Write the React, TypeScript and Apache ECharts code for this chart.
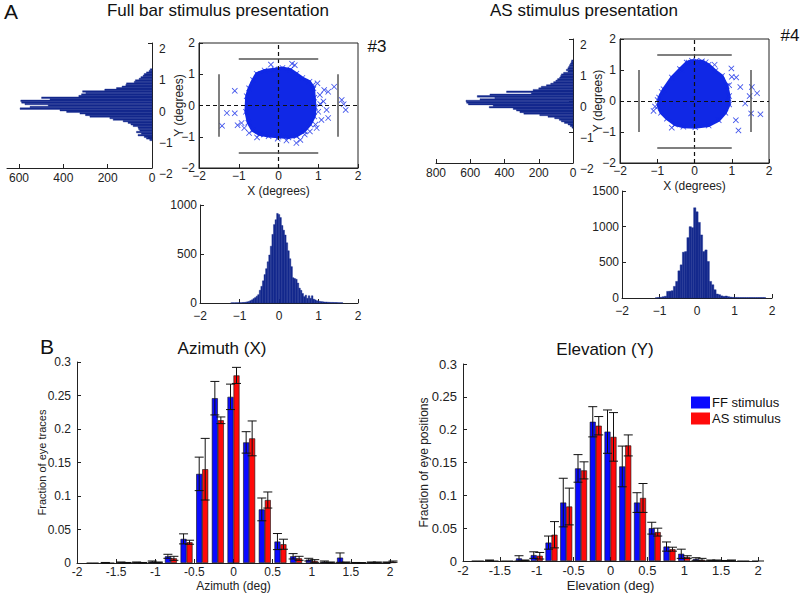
import React, { useEffect, useRef } from 'react';
import * as echarts from 'echarts';

const FONT = '"Liberation Sans", Arial, Helvetica, sans-serif';
const HIST_COLOR = '#14298d';
const DOT_COLOR = '#1028e6';
const AXIS_COLOR = '#222';

// ---------- Panel A, #3 (full bar stimulus) ----------
const yHist3Centers = [1.15, 1.1, 1.05, 1.0, 0.95, 0.9, 0.85, 0.8, 0.75, 0.7, 0.65, 0.6, 0.55, 0.5, 0.45, 0.4, 0.35, 0.3, 0.25, 0.2, 0.15, 0.1, 0.05, 0.0, -0.05, -0.1, -0.15, -0.2, -0.25, -0.3, -0.35, -0.4, -0.45, -0.5, -0.55, -0.6, -0.65, -0.7, -0.75, -0.8, -0.85, -0.9, -0.95, -1.0, -1.05, -1.1];
const yHist3Counts = [8, 13, 25, 35, 40, 50, 58, 75, 80, 115, 118, 135, 160, 213, 313, 298, 318, 330, 498, 460, 592, 588, 573, 468, 550, 595, 415, 385, 325, 300, 280, 190, 175, 130, 108, 95, 85, 63, 60, 55, 70, 48, 63, 35, 25, 10];

const xHist3Centers = [-1.2, -1.16, -1.12, -1.08, -1.04, -1.0, -0.96, -0.92, -0.88, -0.84, -0.8, -0.76, -0.72, -0.68, -0.64, -0.6, -0.56, -0.52, -0.48, -0.44, -0.4, -0.36, -0.32, -0.28, -0.24, -0.2, -0.16, -0.12, -0.08, -0.04, 0.0, 0.04, 0.08, 0.12, 0.16, 0.2, 0.24, 0.28, 0.32, 0.36, 0.4, 0.44, 0.48, 0.52, 0.56, 0.6, 0.64, 0.68, 0.72, 0.76, 0.8, 0.84, 0.88, 0.92, 0.96, 1.0, 1.04, 1.08, 1.12, 1.16, 1.2, 1.24, 1.28, 1.32, 1.36, 1.4, 1.44, 1.48, 1.52, 1.56, 1.6];
const xHist3Counts = [2, 2, 2, 3, 3, 4, 3, 5, 6, 8, 12, 16, 24, 32, 45, 55, 70, 85, 130, 170, 226, 290, 350, 420, 490, 580, 700, 800, 850, 914, 904, 872, 791, 743, 694, 614, 533, 452, 371, 258, 249, 242, 203, 152, 129, 97, 65, 80, 48, 74, 48, 74, 39, 32, 23, 20, 16, 14, 12, 10, 10, 8, 7, 6, 6, 5, 5, 4, 3, 3, 2];

const blob3 = [[-0.8, 0.3], [-0.74, 0.55], [-0.64, 0.82], [-0.55, 1.02], [-0.35, 1.12], [-0.1, 1.16], [0.1, 1.2], [0.3, 1.15], [0.45, 1.02], [0.6, 0.88], [0.78, 0.76], [0.88, 0.55], [0.9, 0.25], [0.92, -0.05], [0.9, -0.35], [0.8, -0.6], [0.65, -0.82], [0.45, -0.98], [0.25, -1.02], [0.0, -1.0], [-0.25, -0.98], [-0.48, -0.92], [-0.65, -0.8], [-0.76, -0.55], [-0.82, -0.2]];
const outliers3 = [[-0.19, 1.31], [0.34, 1.34], [0.41, 1.29], [-1.1, 0.47], [-1.3, -0.24], [-1.1, -0.25], [-1.42, -0.65], [-1.03, -0.63], [-0.93, -0.56], [-0.86, -0.72], [-0.54, -1.02], [-0.36, -0.93], [-0.02, -1.06], [0.45, -1.2], [0.66, -0.93], [0.96, -0.72], [1.08, -0.46], [1.25, -0.4], [1.21, -0.14], [1.13, 0.13], [1.15, 0.5], [1.25, 0.44], [1.4, 0.6], [1.59, 0.18], [1.64, 0.04], [1.69, -0.14], [0.98, 0.71], [0.87, 0.66], [1.04, 0.34], [0.93, -0.61], [0.79, -0.83], [-0.74, -0.88], [0.55, -1.1], [0.2, -1.12], [1.0, -0.2], [1.05, 0.05]];

// ---------- Panel A, #4 (AS stimulus) ----------
const yHist4Centers = [1.3, 1.25, 1.2, 1.15, 1.1, 1.05, 1.0, 0.95, 0.9, 0.85, 0.8, 0.75, 0.7, 0.65, 0.6, 0.55, 0.5, 0.45, 0.4, 0.35, 0.3, 0.25, 0.2, 0.15, 0.1, 0.05, 0.0, -0.05, -0.1, -0.15, -0.2, -0.25, -0.3, -0.35, -0.4, -0.45, -0.5, -0.55, -0.6, -0.65, -0.7, -0.75, -0.8, -0.85];
const yHist4Counts = [8, 10, 15, 20, 25, 30, 39, 29, 55, 68, 72, 78, 90, 100, 113, 130, 155, 185, 200, 233, 388, 243, 485, 559, 456, 543, 625, 621, 611, 466, 489, 349, 330, 310, 287, 194, 146, 107, 80, 68, 50, 29, 16, 6];

const xHist4Centers = [-1.08, -1.02, -0.96, -0.9, -0.84, -0.78, -0.72, -0.66, -0.6, -0.54, -0.48, -0.42, -0.36, -0.3, -0.24, -0.18, -0.12, -0.06, 0.0, 0.06, 0.12, 0.18, 0.24, 0.3, 0.36, 0.42, 0.48, 0.54, 0.6, 0.66, 0.72, 0.78, 0.84, 0.9, 0.96, 1.02, 1.08, 1.14, 1.2, 1.26, 1.32, 1.38, 1.44, 1.5, 1.56, 1.62, 1.68, 1.74, 1.8];
const xHist4Counts = [5, 8, 10, 18, 25, 93, 95, 102, 163, 233, 381, 465, 642, 651, 846, 1000, 986, 1265, 1209, 1060, 884, 651, 674, 512, 233, 186, 116, 56, 47, 30, 23, 28, 19, 12, 9, 8, 8, 7, 7, 7, 7, 7, 7, 7, 7, 7, 7, 7, 7];

const blob4 = [[-0.95, 0.11], [-0.83, 0.38], [-0.61, 0.76], [-0.39, 1.03], [-0.21, 1.24], [-0.07, 1.3], [0.2, 1.28], [0.38, 1.17], [0.56, 0.97], [0.74, 0.81], [0.87, 0.49], [0.93, 0.16], [0.93, -0.11], [0.83, -0.38], [0.65, -0.62], [0.38, -0.79], [0.02, -0.85], [-0.3, -0.83], [-0.52, -0.76], [-0.74, -0.57], [-0.9, -0.38], [-0.97, -0.16]];
const outliers4 = [[0.54, 1.17], [0.99, 1.05], [1.0, 0.78], [1.12, 0.76], [1.23, 0.45], [1.54, 0.45], [1.68, 0.25], [1.48, 0.16], [1.36, -0.08], [1.52, -0.4], [1.77, -0.43], [1.11, -0.62], [1.18, -0.95], [0.93, 0.51], [0.91, -0.05], [-0.61, -0.86], [-1.1, -0.32], [-1.06, -0.18], [-0.99, 0.03], [-0.88, 0.29], [-0.34, 1.0], [-0.16, 1.24], [0.05, 1.3], [0.3, 1.25]];

// ---------- Panel B ----------
const binCenters = [-1.8, -1.6, -1.4, -1.2, -1.0, -0.8, -0.6, -0.4, -0.2, 0.0, 0.2, 0.4, 0.6, 0.8, 1.0, 1.2, 1.4, 1.6, 1.8, 2.0];
const azFF = [0, 0.0005, 0.001, 0.001, 0.002, 0.01, 0.036, 0.133, 0.246, 0.248, 0.18, 0.08, 0.032, 0.01, 0.005, 0.002, 0.008, 0.0005, 0.001, 0.001];
const azFFErr = [0, 0.0003, 0.0005, 0.0005, 0.001, 0.003, 0.0075, 0.025, 0.025, 0.019, 0.016, 0.017, 0.012, 0.004, 0.002, 0.001, 0.007, 0.0003, 0.0005, 0.0005];
const azAS = [0, 0, 0.0005, 0.0005, 0.001, 0.007, 0.031, 0.14, 0.213, 0.28, 0.186, 0.094, 0.028, 0.007, 0.003, 0.001, 0.001, 0.0003, 0.001, 0.002];
const azASErr = [0, 0, 0.0003, 0.0003, 0.0005, 0.003, 0.003, 0.046, 0.005, 0.012, 0.026, 0.012, 0.0075, 0.003, 0.002, 0.0005, 0.0005, 0.0002, 0.0005, 0.001];

const elFF = [0, 0.001, 0, 0.004, 0.009, 0.028, 0.089, 0.141, 0.212, 0.197, 0.144, 0.089, 0.05, 0.022, 0.011, 0.003, 0.001, 0.0005, 0, 0];
const elFFErr = [0, 0.0005, 0, 0.004, 0.005, 0.01, 0.037, 0.021, 0.023, 0.033, 0.031, 0.015, 0.009, 0.007, 0.007, 0.002, 0.0005, 0.0003, 0, 0];
const elAS = [0, 0, 0, 0.001, 0.008, 0.04, 0.083, 0.138, 0.206, 0.189, 0.176, 0.096, 0.044, 0.018, 0.006, 0.002, 0.001, 0.001, 0, 0];
const elASErr = [0, 0, 0, 0.0005, 0.005, 0.02, 0.028, 0.013, 0.014, 0.037, 0.016, 0.022, 0.006, 0.003, 0.002, 0.002, 0.0005, 0.0005, 0, 0];

const FF_COLOR = '#0a0aff';
const AS_COLOR = '#ff0a0a';

const minus = (v: number) => String(v).replace('-', '\u2212');
const plain = (v: number) => String(v);

const xMarker = 'path://M1 0L5 4L9 0L10 1L6 5L10 9L9 10L5 6L1 10L0 9L4 5L0 1Z';

function vHist(binWidth: number) {
  return (params: any, api: any) => {
    const c = api.value(0);
    const v = api.value(1);
    const p0 = api.coord([c - binWidth / 2, v]);
    const p1 = api.coord([c + binWidth / 2, 0]);
    return {
      type: 'rect',
      shape: { x: p0[0], y: p0[1], width: p1[0] - p0[0], height: p1[1] - p0[1] },
      style: { fill: HIST_COLOR, stroke: HIST_COLOR, lineWidth: 0.4 },
    };
  };
}

function hHist(binWidth: number) {
  return (params: any, api: any) => {
    const v = api.value(0);
    const c = api.value(1);
    const p0 = api.coord([v, c + binWidth / 2]);
    const p1 = api.coord([0, c - binWidth / 2]);
    const x = Math.min(p0[0], p1[0]);
    const y = Math.min(p0[1], p1[1]);
    return {
      type: 'rect',
      shape: { x, y, width: Math.abs(p1[0] - p0[0]), height: Math.abs(p1[1] - p0[1]) },
      style: { fill: HIST_COLOR, stroke: HIST_COLOR, lineWidth: 0.4 },
    };
  };
}

function blobRender(blob: number[][]) {
  return (params: any, api: any) => {
    if (params.dataIndex !== 0) return null;
    const pts = blob.map((p) => api.coord(p));
    return {
      type: 'polygon',
      shape: { points: pts },
      style: { fill: DOT_COLOR, stroke: DOT_COLOR, lineWidth: 3 },
    };
  };
}

function errRender(offset: number) {
  return (params: any, api: any) => {
    const x = api.value(0);
    const y = api.value(1);
    const e = api.value(2);
    if (!(e > 0)) return null;
    const top = api.coord([x, y + e]);
    const bot = api.coord([x, Math.max(0, y - e)]);
    const cx = top[0] + offset;
    const cap = 4.5;
    const st = { stroke: '#111', lineWidth: 1 };
    return {
      type: 'group',
      children: [
        { type: 'line', shape: { x1: cx, y1: top[1], x2: cx, y2: bot[1] }, style: st },
        { type: 'line', shape: { x1: cx - cap, y1: top[1], x2: cx + cap, y2: top[1] }, style: st },
        { type: 'line', shape: { x1: cx - cap, y1: bot[1], x2: cx + cap, y2: bot[1] }, style: st },
      ],
    };
  };
}

const axisLine = { show: true, onZero: false, lineStyle: { color: AXIS_COLOR, width: 1 } };
const tick = { show: true, inside: true, length: 4, lineStyle: { color: AXIS_COLOR } };
const noSplit = { show: false };
const lbl = (extra: any = {}) => ({ fontFamily: FONT, fontSize: 12, color: AXIS_COLOR, ...extra });
const nameStyle = (size: number) => ({ fontFamily: FONT, fontSize: size, color: AXIS_COLOR });

function scatterMarkLines() {
  return {
    symbol: 'none',
    silent: true,
    label: { show: false },
    data: [
      { xAxis: 0, lineStyle: { type: [4, 3], color: '#111', width: 1.2 } },
      { yAxis: 0, lineStyle: { type: [4, 3], color: '#111', width: 1.2 } },
      [{ coord: [-1, 1.5], lineStyle: { type: 'solid', color: '#555', width: 1.5 } }, { coord: [1, 1.5] }],
      [{ coord: [-1, -1.5], lineStyle: { type: 'solid', color: '#555', width: 1.5 } }, { coord: [1, -1.5] }],
      [{ coord: [-1.5, -1], lineStyle: { type: 'solid', color: '#555', width: 1.5 } }, { coord: [-1.5, 1] }],
      [{ coord: [1.5, -1], lineStyle: { type: 'solid', color: '#555', width: 1.5 } }, { coord: [1.5, 1] }],
    ],
  };
}

export default function App() {
  const ref = useRef<HTMLDivElement>(null);
  useEffect(() => {
    if (!ref.current) return;
    const chart = echarts.init(ref.current, undefined, { renderer: 'svg' });

    const grids = [
      { left: 7, top: 43, width: 145, height: 125 }, // 0 yhist3
      { left: 199, top: 43, width: 159, height: 125, show: true, borderColor: AXIS_COLOR, borderWidth: 1 }, // 1 scatter3
      { left: 200, top: 205, width: 158, height: 98 }, // 2 xhist3
      { left: 436, top: 39, width: 137, height: 124 }, // 3 yhist4
      { left: 620, top: 39, width: 149, height: 124, show: true, borderColor: AXIS_COLOR, borderWidth: 1 }, // 4 scatter4
      { left: 622, top: 191, width: 150, height: 107 }, // 5 xhist4
      { left: 77, top: 362, width: 313, height: 201 }, // 6 B left
      { left: 463, top: 364, width: 295, height: 199 }, // 7 B right
    ].map((g) => ({ ...g, containLabel: false }));

    const degAxisX = (gridIndex: number, name?: string, margin: number = 3) => ({
      gridIndex, type: 'value', min: -2, max: 2, interval: 1,
      axisLine, axisTick: tick, splitLine: noSplit,
      axisLabel: lbl({ margin, formatter: minus }),
      name, nameLocation: 'middle', nameGap: 17, nameMoveOverlap: false,
      nameTextStyle: nameStyle(12),
    });

    const xAxis: any[] = [
      { gridIndex: 0, type: 'value', inverse: true, min: 0, max: 654, axisLine, splitLine: noSplit,
        axisTick: { ...tick, customValues: [0, 200, 400, 600] },
        axisLabel: lbl({ margin: 4, formatter: plain, customValues: [0, 200, 400, 600] }) },
      degAxisX(1, 'X (degrees)', 2),
      degAxisX(2, undefined, 7),
      { gridIndex: 3, type: 'value', inverse: true, min: 0, max: 800, interval: 200, axisLine, splitLine: noSplit,
        axisTick: tick, axisLabel: lbl({ margin: 4, formatter: plain }) },
      degAxisX(4, 'X (degrees)', 2),
      degAxisX(5, undefined, 7),
      { gridIndex: 6, type: 'value', min: -2, max: 2, interval: 0.5, axisLine, axisTick: tick, splitLine: noSplit,
        axisLabel: lbl({ margin: 3, fontSize: 12 }),
        name: 'Azimuth (deg)', nameLocation: 'middle', nameGap: 17, nameMoveOverlap: false,
        nameTextStyle: nameStyle(12) },
      { gridIndex: 7, type: 'value', min: -2, max: 2, interval: 0.5, axisLine, axisTick: tick, splitLine: noSplit,
        axisLabel: lbl({ margin: 3, fontSize: 13 }),
        name: 'Elevation (deg)', nameLocation: 'middle', nameGap: 18, nameMoveOverlap: false,
        nameTextStyle: nameStyle(13) },
    ];

    const yAxis: any[] = [
      { gridIndex: 0, type: 'value', position: 'right', min: -2, max: 2, interval: 1, axisLine, axisTick: tick,
        splitLine: noSplit, axisLabel: lbl({ margin: 7, formatter: minus, verticalAlign: 'top' }) },
      { gridIndex: 1, type: 'value', min: -2, max: 2, interval: 1, axisLine, axisTick: tick, splitLine: noSplit,
        axisLabel: lbl({ margin: 4, formatter: minus }),
        name: 'Y (degrees)', nameLocation: 'middle', nameGap: 14, nameRotate: 90, nameMoveOverlap: false,
        nameTextStyle: nameStyle(12) },
      { gridIndex: 2, type: 'value', min: 0, max: 1000, interval: 500, axisLine, axisTick: tick, splitLine: noSplit,
        axisLabel: lbl({ margin: 3, formatter: plain }) },
      { gridIndex: 3, type: 'value', position: 'right', min: -2, max: 2, interval: 1, axisLine, axisTick: tick,
        splitLine: noSplit, axisLabel: lbl({ margin: 7, formatter: minus, verticalAlign: 'top' }) },
      { gridIndex: 4, type: 'value', min: -2, max: 2, interval: 1, axisLine, axisTick: tick, splitLine: noSplit,
        axisLabel: lbl({ margin: 4, formatter: minus }),
        name: 'Y (degrees)', nameLocation: 'middle', nameGap: 16, nameRotate: 90, nameMoveOverlap: false,
        nameTextStyle: nameStyle(12) },
      { gridIndex: 5, type: 'value', min: 0, max: 1500, interval: 500, axisLine, axisTick: tick, splitLine: noSplit,
        axisLabel: lbl({ margin: 3, formatter: plain }) },
      { gridIndex: 6, type: 'value', min: 0, max: 0.3, interval: 0.05, axisLine, axisTick: tick, splitLine: noSplit,
        axisLabel: lbl({ margin: 6, fontSize: 12 }),
        name: 'Fraction of eye traces', nameLocation: 'middle', nameGap: 30, nameRotate: 90, nameMoveOverlap: false,
        nameTextStyle: nameStyle(11) },
      { gridIndex: 7, type: 'value', min: 0, max: 0.3, interval: 0.05, axisLine, axisTick: tick, splitLine: noSplit,
        axisLabel: lbl({ margin: 6, fontSize: 13 }),
        name: 'Fraction of eye positions', nameLocation: 'middle', nameGap: 33, nameRotate: 90, nameMoveOverlap: false,
        nameTextStyle: nameStyle(12) },
    ];

    const series: any[] = [
      { type: 'custom', xAxisIndex: 0, yAxisIndex: 0, renderItem: hHist(0.05),
        data: yHist3Counts.map((v, i) => [v, yHist3Centers[i]]) },
      { type: 'custom', xAxisIndex: 1, yAxisIndex: 1, renderItem: blobRender(blob3), data: blob3 },
      { type: 'scatter', xAxisIndex: 1, yAxisIndex: 1, symbol: xMarker, symbolSize: 6,
        itemStyle: { color: DOT_COLOR }, data: [...blob3, ...outliers3], markLine: scatterMarkLines() },
      { type: 'custom', xAxisIndex: 2, yAxisIndex: 2, renderItem: vHist(0.04),
        data: xHist3Counts.map((v, i) => [xHist3Centers[i], v]) },
      { type: 'custom', xAxisIndex: 3, yAxisIndex: 3, renderItem: hHist(0.05),
        data: yHist4Counts.map((v, i) => [v, yHist4Centers[i]]) },
      { type: 'custom', xAxisIndex: 4, yAxisIndex: 4, renderItem: blobRender(blob4), data: blob4 },
      { type: 'scatter', xAxisIndex: 4, yAxisIndex: 4, symbol: xMarker, symbolSize: 6,
        itemStyle: { color: DOT_COLOR }, data: [...blob4, ...outliers4], markLine: scatterMarkLines() },
      { type: 'custom', xAxisIndex: 5, yAxisIndex: 5, renderItem: vHist(0.06),
        data: xHist4Counts.map((v, i) => [xHist4Centers[i], v]) },
    ];

    const addB = (axisIdx: number, ff: number[], ffErr: number[], as: number[], asErr: number[]) => {
      series.push(
        { type: 'bar', name: 'FF stimulus', xAxisIndex: axisIdx, yAxisIndex: axisIdx, barWidth: 6, barGap: '0%',
          itemStyle: { color: FF_COLOR, borderColor: '#111', borderWidth: 0.6 },
          data: ff.map((v, i) => [binCenters[i], v]) },
        { type: 'bar', name: 'AS stimulus', xAxisIndex: axisIdx, yAxisIndex: axisIdx, barWidth: 6, barGap: '0%',
          itemStyle: { color: AS_COLOR, borderColor: '#111', borderWidth: 0.6 },
          data: as.map((v, i) => [binCenters[i], v]) },
        { type: 'custom', xAxisIndex: axisIdx, yAxisIndex: axisIdx, renderItem: errRender(-3), z: 5,
          data: ff.map((v, i) => [binCenters[i], v, ffErr[i]]) },
        { type: 'custom', xAxisIndex: axisIdx, yAxisIndex: axisIdx, renderItem: errRender(3), z: 5,
          data: as.map((v, i) => [binCenters[i], v, asErr[i]]) },
      );
    };
    addB(6, azFF, azFFErr, azAS, azASErr);
    addB(7, elFF, elFFErr, elAS, elASErr);

    const txt = (text: string, x: number, y: number, size: number, align: string = 'center') => ({
      type: 'text', x, y,
      style: { text, fill: '#111', font: `${size}px ${FONT}`, textAlign: align, textVerticalAlign: 'middle' },
    });

    chart.setOption({
      animation: false,
      backgroundColor: '#ffffff',
      textStyle: { fontFamily: FONT },
      grid: grids,
      xAxis,
      yAxis,
      series,
      legend: {
        data: ['FF stimulus', 'AS stimulus'],
        orient: 'vertical', left: 686, top: 391, itemWidth: 19, itemHeight: 12, itemGap: 3,
        icon: 'rect', itemStyle: { borderWidth: 0 },
        textStyle: { fontFamily: FONT, fontSize: 13, color: '#111', padding: [0, 0, 0, -3] },
        selectedMode: false,
      },
      graphic: [
        txt('A', 4, 11, 21, 'left'),
        txt('Full bar stimulus presentation', 218, 10, 17),
        txt('AS stimulus presentation', 584, 10, 17),
        txt('#3', 377, 46, 17),
        txt('#4', 790, 35, 17),
        txt('B', 47, 346, 21),
        txt('Azimuth (X)', 222, 348, 17),
        txt('Elevation (Y)', 605, 349, 17),
      ],
    });
    return () => chart.dispose();
  }, []);

  return (
    <div
      ref={ref}
      style={{ position: 'fixed', left: 0, top: 0, width: 800, height: 593, background: '#fff' }}
    />
  );
}
